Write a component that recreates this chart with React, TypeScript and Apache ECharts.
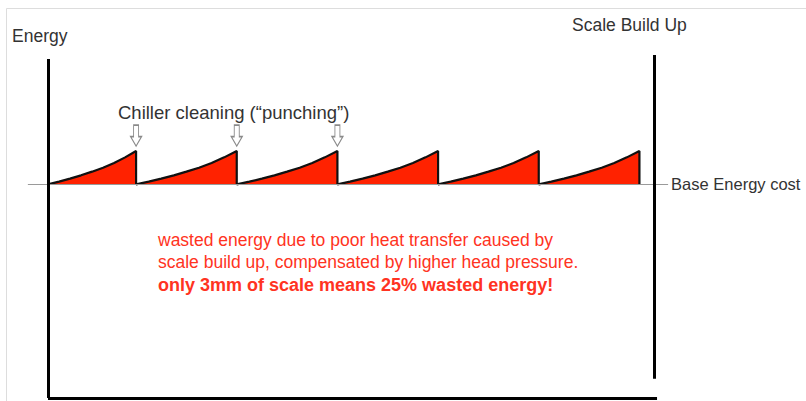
import React, { useEffect, useRef } from "react";
import * as echarts from "echarts";

// ---- data ----
const teethStart = [0, 17.5, 37.5, 57.5, 77.5, 97.5];
const teethEnd = [17.5, 37.5, 57.5, 77.5, 97.5, 117.5];
const peakEnergy = [72, 72, 72, 72, 72, 72];
const baseEnergy = 62.3;
// relative rise of one tooth, sampled at equal steps along the tooth
const toothProfile = [0, 0.08, 0.17, 0.27, 0.38, 0.5, 0.64, 0.81, 1];
const cleaningMarks = [17.5, 37.5, 57.5];
const arrowLevel = 76.5;

const yAxisLine = { x: 0, from: 98.8, to: 0 };
const xAxisLine = { y: 0, from: 0, to: 121 };
const scaleLine = { x: 120.5, from: 100, to: 5.6 };
const baseLine = { from: -4, to: 123.2 };

const energyLabel = "Energy";
const scaleLabel = "Scale Build Up";
const cleaningLabel = "Chiller cleaning (“punching”)";
const baseLabel = "Base Energy cost";
const noteLines = [
  "wasted energy due to poor heat transfer caused by",
  "scale build up, compensated by higher head pressure.",
];
const noteBold = "only 3mm of scale means 25% wasted energy!";

// ---- build series data ----
const curve: number[][] = [];
teethStart.forEach((s, i) => {
  const e = teethEnd[i];
  const n = toothProfile.length - 1;
  toothProfile.forEach((p, k) => {
    curve.push([s + ((e - s) * k) / n, baseEnergy + (peakEnergy[i] - baseEnergy) * p]);
  });
  curve.push([e, baseEnergy]);
});

const FONT = "'Liberation Sans', Arial, Helvetica, sans-serif";
const DARK = "#333333";
const RED = "#ff3322";

const k = 604 / 120;
const xMin = -5;
const xMax = 125;

const option = {
  animation: false,
  backgroundColor: "#ffffff",
  grid: {
    left: 48 + xMin * k,
    width: (xMax - xMin) * k,
    top: 55,
    height: 343,
  },
  xAxis: { type: "value", min: xMin, max: xMax, show: false },
  yAxis: { type: "value", min: 0, max: 100, show: false },
  graphic: [
    {
      type: "rect",
      silent: true,
      shape: { x: 6.5, y: 8.5, width: 900, height: 500 },
      style: { fill: "none", stroke: "#dddddd", lineWidth: 1 },
      z: 0,
    },
    {
      type: "text",
      x: 12,
      y: 36,
      style: { text: energyLabel, font: `17.5px ${FONT}`, fill: DARK, verticalAlign: "middle" },
    },
    {
      type: "text",
      x: 572,
      y: 25,
      style: { text: scaleLabel, font: `17.5px ${FONT}`, fill: DARK, verticalAlign: "middle" },
    },
    {
      type: "text",
      x: 118,
      y: 112,
      style: { text: cleaningLabel, font: `18.5px ${FONT}`, fill: DARK, verticalAlign: "middle" },
    },
    {
      type: "text",
      x: 158,
      y: 240,
      style: { text: noteLines[0], font: `17.5px ${FONT}`, fill: RED, verticalAlign: "middle" },
    },
    {
      type: "text",
      x: 158,
      y: 262,
      style: { text: noteLines[1], font: `17.5px ${FONT}`, fill: RED, verticalAlign: "middle" },
    },
    {
      type: "text",
      x: 158,
      y: 285,
      style: { text: noteBold, font: `bold 18px ${FONT}`, fill: RED, verticalAlign: "middle" },
    },
  ],
  series: [
    {
      type: "line",
      data: [],
      z: 1,
      clip: false,
      markLine: {
        silent: true,
        symbol: ["none", "none"],
        lineStyle: { type: "solid", color: "#9a9a9a", width: 1 },
        label: {
          show: true,
          position: "end",
          distance: 3,
          formatter: baseLabel,
          color: DARK,
          fontSize: 16.5,
          fontFamily: FONT,
        },
        data: [[{ coord: [baseLine.from, baseEnergy] }, { coord: [baseLine.to, baseEnergy] }]],
      },
    },
    {
      type: "line",
      data: curve,
      z: 3,
      showSymbol: false,
      symbol: "none",
      lineStyle: { color: "#111111", width: 2.2 },
      areaStyle: { color: "#ff2200", opacity: 1, origin: baseEnergy },
      silent: true,
    },
    {
      type: "line",
      data: [],
      z: 5,
      clip: false,
      markLine: {
        silent: true,
        symbol: ["none", "none"],
        label: { show: false },
        lineStyle: { type: "solid", color: "#000000", width: 3 },
        data: [
          [{ coord: [yAxisLine.x, yAxisLine.from] }, { coord: [yAxisLine.x, yAxisLine.to] }],
          [{ coord: [xAxisLine.from, xAxisLine.y] }, { coord: [xAxisLine.to, xAxisLine.y] }],
          [{ coord: [scaleLine.x, scaleLine.from] }, { coord: [scaleLine.x, scaleLine.to] }],
        ],
      },
      markPoint: {
        silent: true,
        symbol: "path://M3,0 L8,0 L8,11 L11,11 L5.5,20 L0,11 L3,11 Z",
        symbolSize: [11, 21],
        label: { show: false },
        itemStyle: { color: "#ffffff", borderColor: "#8a8a8a", borderWidth: 1.2 },
        data: cleaningMarks.map((x) => ({ coord: [x, arrowLevel] })),
      },
    },
  ],
};

export default function App() {
  const ref = useRef<HTMLDivElement>(null);
  useEffect(() => {
    const chart = echarts.init(ref.current!, null, { renderer: "svg" });
    chart.setOption(option as any);
    return () => chart.dispose();
  }, []);
  return (
    <div
      ref={ref}
      style={{ position: "fixed", left: 0, top: 0, width: 806, height: 401, background: "#fff" }}
    />
  );
}
